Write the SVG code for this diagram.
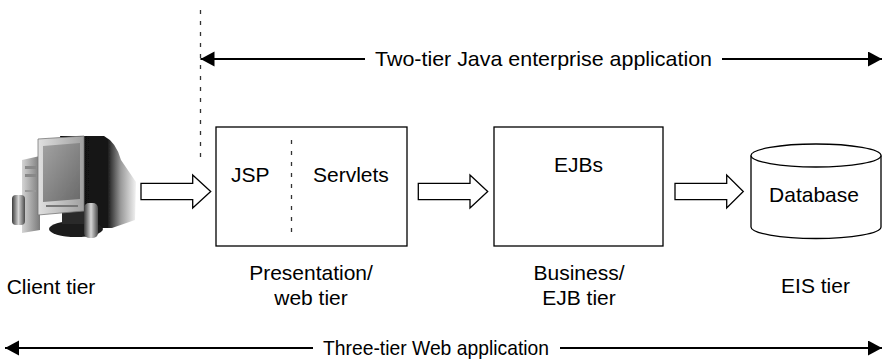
<svg xmlns="http://www.w3.org/2000/svg" width="883" height="363" viewBox="0 0 883 363">
  <style>
    .box { fill: #fff; stroke: #000; stroke-width: 1.3; }
    .flow { fill: #fff; stroke: #000; stroke-width: 1.3; stroke-linejoin: miter; }
    .dash { fill: none; stroke: #333; stroke-width: 1.3; stroke-dasharray: 4 7; }
    .span { fill: none; stroke: #000; stroke-width: 2; }
    text { font-family: "Liberation Sans", Arial, sans-serif; font-size: 21px; fill: #000; }
    .mid { text-anchor: middle; }
  </style>
  <defs>
    <marker id="head" markerUnits="userSpaceOnUse" markerWidth="15" markerHeight="16" refX="14" refY="7.5" orient="auto" viewBox="0 0 15 16">
      <path d="M0,0 L14,7.5 L0,15 z" fill="#000"/>
    </marker>
    <linearGradient id="backShade" x1="0" y1="0" x2="1" y2="0">
      <stop offset="0" stop-color="#0d0d0d"/>
      <stop offset="0.62" stop-color="#151515"/>
      <stop offset="0.8" stop-color="#9a9a9a"/>
      <stop offset="1" stop-color="#f2f2f2"/>
    </linearGradient>
    <linearGradient id="screen" x1="0" y1="0" x2="1" y2="1">
      <stop offset="0" stop-color="#a2a2a2"/>
      <stop offset="1" stop-color="#6a6a6a"/>
    </linearGradient>
    <linearGradient id="bezel" x1="0" y1="0" x2="1" y2="0">
      <stop offset="0" stop-color="#e0e0e0"/>
      <stop offset="1" stop-color="#a0a0a0"/>
    </linearGradient>
    <linearGradient id="speaker" x1="0" y1="0" x2="1" y2="0">
      <stop offset="0" stop-color="#3a3a3a"/>
      <stop offset="0.5" stop-color="#d6d6d6"/>
      <stop offset="1" stop-color="#4a4a4a"/>
    </linearGradient>
    <linearGradient id="tower" x1="0" y1="0" x2="1" y2="0">
      <stop offset="0" stop-color="#d4d4d4"/>
      <stop offset="1" stop-color="#7a7a7a"/>
    </linearGradient>
    <filter id="soft" x="-5%" y="-5%" width="110%" height="110%">
      <feGaussianBlur stdDeviation="0.7"/>
    </filter>
  </defs>

  <!-- desktop computer -->
  <g id="client" filter="url(#soft)">
    <!-- CRT housing, fading out to the right -->
    <path d="M60,136 L104,136 Q116,142 121,160 L136,182 L135,220 L112,228 L80,228 Z" fill="url(#backShade)"/>
    <!-- stand -->
    <ellipse cx="76" cy="229" rx="27" ry="8" fill="#1e1e1e"/>
    <rect x="62" y="206" width="28" height="18" fill="#2a2a2a"/>
    <!-- tower -->
    <path d="M22,160 L40,156 L40,230 L22,233 Z" fill="url(#tower)"/>
    <rect x="25" y="166" width="11" height="3" fill="#888"/>
    <rect x="25" y="174" width="11" height="3" fill="#888"/>
    <rect x="25" y="190" width="11" height="2" fill="#999"/>
    <!-- front bezel and screen -->
    <path d="M38,139 L84,136 L84,211 L38,215 Z" fill="url(#bezel)" stroke="#777" stroke-width="0.8"/>
    <path d="M43,146 L80,143 L80,199 L43,202 Z" fill="url(#screen)"/>
    <rect x="46" y="205" width="32" height="2" fill="#777"/>
    <!-- speakers -->
    <rect x="12" y="195" width="13" height="30" rx="4" fill="url(#speaker)"/>
    <rect x="84" y="203" width="14" height="35" rx="5" fill="url(#speaker)"/>
  </g>

  <!-- presentation / web tier -->
  <g id="web-tier">
    <rect class="box" x="216" y="127" width="191" height="119"/>
    <line class="dash" x1="291.5" y1="140" x2="291.5" y2="236"/>
    <text x="231" y="182">JSP</text>
    <text x="313" y="182">Servlets</text>
  </g>

  <!-- business / EJB tier -->
  <g id="ejb-tier">
    <rect class="box" x="494" y="127" width="169" height="119"/>
    <text class="mid" x="578.5" y="172">EJBs</text>
  </g>

  <!-- EIS tier database -->
  <g id="database">
    <path class="box" d="M751,155.5 L751,227 A65,11.5 0 0 0 881,227 L881,155.5"/>
    <ellipse class="box" cx="816" cy="155.5" rx="65" ry="11.5"/>
    <text class="mid" x="814" y="202">Database</text>
  </g>

  <!-- tier captions -->
  <g id="captions">
    <text class="mid" x="51" y="294">Client tier</text>
    <text class="mid" x="311" y="280">Presentation/</text>
    <text class="mid" x="311" y="305">web tier</text>
    <text class="mid" x="579" y="280">Business/</text>
    <text class="mid" x="579" y="305">EJB tier</text>
    <text class="mid" x="815.5" y="293">EIS tier</text>
  </g>

  <!-- connectors -->
  <g id="connectors">
    <polygon class="flow" points="141,183.3 192.7,183.3 192.7,175 210.7,191.5 192.7,208 192.7,199.7 141,199.7"/>
    <polygon class="flow" points="418.3,183.3 470,183.3 470,175 487.7,191.5 470,208 470,199.7 418.3,199.7"/>
    <polygon class="flow" points="675,183.3 726.7,183.3 726.7,175 743.3,191.5 726.7,208 726.7,199.7 675,199.7"/>

    <!-- web-tier boundary -->
    <line class="dash" x1="200.5" y1="10" x2="200.5" y2="163"/>

    <!-- two-tier span -->
    <line class="span" x1="365" y1="59" x2="200.5" y2="59" marker-end="url(#head)"/>
    <line class="span" x1="722" y1="59" x2="882" y2="59" marker-end="url(#head)"/>
    <text x="375" y="66" textLength="337" lengthAdjust="spacingAndGlyphs">Two-tier Java enterprise application</text>

    <!-- three-tier span -->
    <line class="span" x1="313" y1="348" x2="5" y2="348" marker-end="url(#head)"/>
    <line class="span" x1="560" y1="348" x2="882" y2="348" marker-end="url(#head)"/>
    <text x="323" y="355" textLength="226" lengthAdjust="spacingAndGlyphs">Three-tier Web application</text>
  </g>
</svg>
